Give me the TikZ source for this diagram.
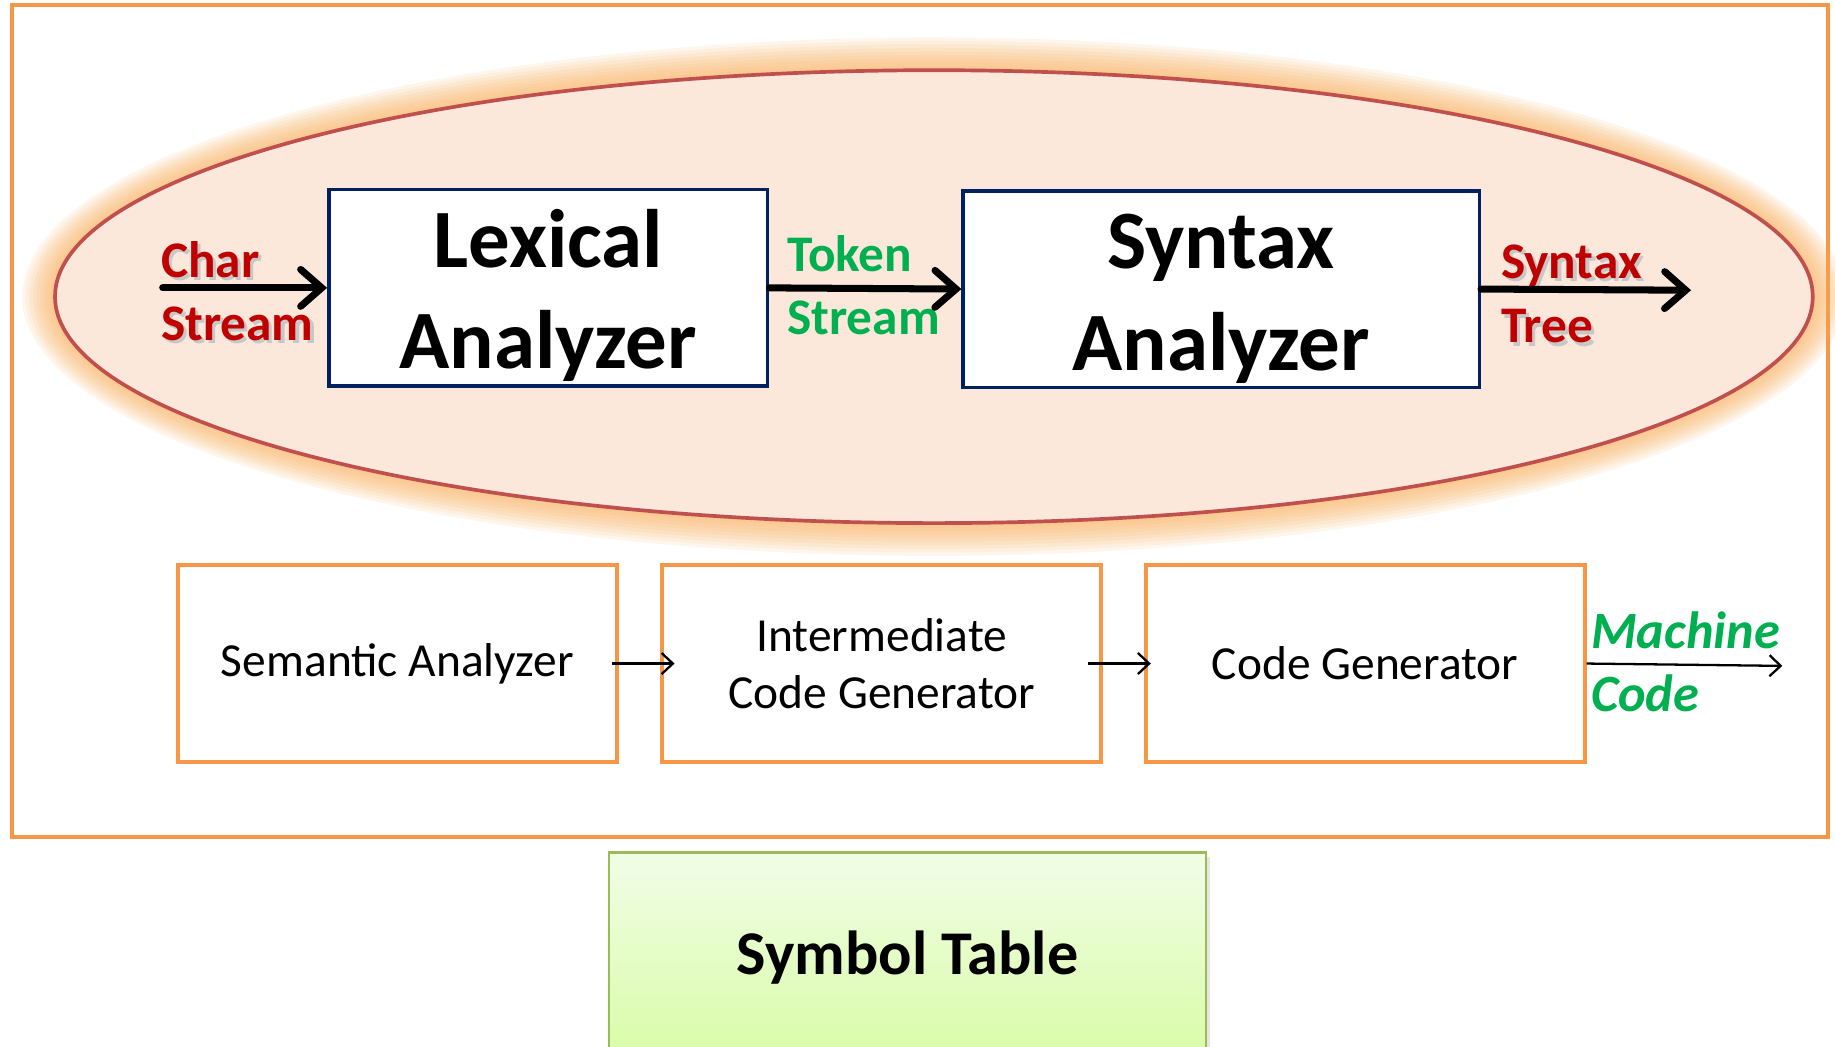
\documentclass[tikz,border=0pt]{standalone}
\usepackage{fontspec}
\setmainfont{Carlito}
\usetikzlibrary{arrows.meta,shadows}
\definecolor{orangeB}{HTML}{F79646}
\definecolor{navyB}{HTML}{002060}
\definecolor{ellB}{HTML}{C0504D}
\definecolor{ellF}{HTML}{FCE8DA}
\definecolor{glowC}{HTML}{FBAE55}
\definecolor{redT}{HTML}{C00000}
\definecolor{greenT}{HTML}{00B050}
\definecolor{symB}{HTML}{9BBB59}
\definecolor{symTop}{HTML}{F1FDE7}
\definecolor{symBot}{HTML}{D9FCA6}
\newcommand\shtext[1]{\makebox[0pt][l]{\hspace{0.9pt}\raisebox{-0.9pt}{\color{black!22}#1}}#1}
\def\px{0.011703cm}
\begin{document}
\begin{tikzpicture}[x=0.011703cm,y=-0.011703cm,
  bigbox/.style={draw=navyB, line width=1pt, fill=white, align=center, inner sep=0pt,
    minimum height=168*\px, font=\bfseries\fontsize{23.6pt}{28.8pt}\selectfont},
  lowbox/.style={draw=orangeB, line width=1.1pt, fill=white, align=center, inner sep=0pt,
    minimum width=375*\px, minimum height=168*\px, font=\fontsize{13.5pt}{16.3pt}\selectfont},
  redlab/.style={anchor=base west, inner sep=0pt, text=redT, font=\bfseries\fontsize{14.6pt}{18pt}\selectfont},
  greenlab/.style={anchor=base west, inner sep=0pt, text=greenT, font=\bfseries\fontsize{14.6pt}{18pt}\selectfont},
  machlab/.style={anchor=base west, inner sep=0pt, text=greenT, font=\bfseries\itshape\fontsize{14.9pt}{18pt}\selectfont},
  thickarrow/.style={line width=2pt, line cap=round, -{Straight Barb[length=6pt,width=10.5pt,line cap=round]}},
  thinarrow/.style={line width=0.65pt, -{Straight Barb[length=3.2pt,width=6pt]}}
]
\useasboundingbox (0,0) rectangle (1568,894);
\fill[white] (0,0) rectangle (1568,894);

% outer frame
\draw[orangeB, line width=1.15pt] (10,4) rectangle (1562,715);

% glow around ellipse
\foreach \r in {28,25,22,19,16,13,10,7,4} {
  \fill[glowC, opacity=0.1] (798,253.5) ellipse [x radius=751+\r, y radius=193.5+\r];
}
\draw[ellB, fill=ellF, line width=1.05pt] (798,253.5) ellipse [x radius=751, y radius=193.5];

% main boxes
\node[bigbox, minimum width=375*\px] (lex) at (468.5,246) {\rule{0pt}{21pt}Lexical\\Analyzer};
\node[bigbox, minimum width=441*\px] (syn) at (1043.5,247) {\rule{0pt}{21pt}Syntax\\Analyzer};

% labels
\node[redlab] (lchar) at (137,237) {\shtext{Char}};
\node[redlab] (lstream) at (137,291) {\shtext{Stream}};
\node[greenlab] (ltoken) at (672,232) {Token};
\node[greenlab] (ltstream) at (672,286) {Stream};
\node[redlab] (lsyntax) at (1282,238) {\shtext{Syntax}};
\node[redlab] (ltree) at (1282,293) {\shtext{Tree}};

\coordinate (cstart) at (139,246);
\coordinate (tend) at (1445,248);
\draw[thickarrow] (cstart) -- (lex.west);
\draw[thickarrow] (lex.east) -- (syn.west);
\draw[thickarrow] (syn.east) -- (tend);

% lower row
\node[lowbox] (sem) at (339.5,567) {Semantic Analyzer};
\node[lowbox] (icg) at (753.5,567) {Intermediate\\Code Generator};
\node[lowbox] (cg) at (1166.5,567) {Code Generator};
\coordinate (mend) at (1523,569);
\draw[thinarrow, shorten <=-2pt, shorten >=-4pt] (sem.east) -- (icg.west);
\draw[thinarrow, shorten <=-4.3pt, shorten >=-2pt] (icg.east) -- (cg.west);
\draw[thinarrow] (cg.east) -- (mend);
\node[machlab] (lmach) at (1359,554) {Machine};
\node[machlab] (lcode) at (1359,608) {Code};

% symbol table
\node[draw=symB, line width=0.7pt, top color=symTop, bottom color=symBot,
  minimum width=510*\px, minimum height=180*\px, inner sep=0pt,
  drop shadow={opacity=0.2, shadow xshift=1.2pt, shadow yshift=-1.2pt},
  font=\bfseries\fontsize{17.7pt}{21pt}\selectfont] (sym) at (775.5,818.5) {Symbol Table};
\end{tikzpicture}
\end{document}
